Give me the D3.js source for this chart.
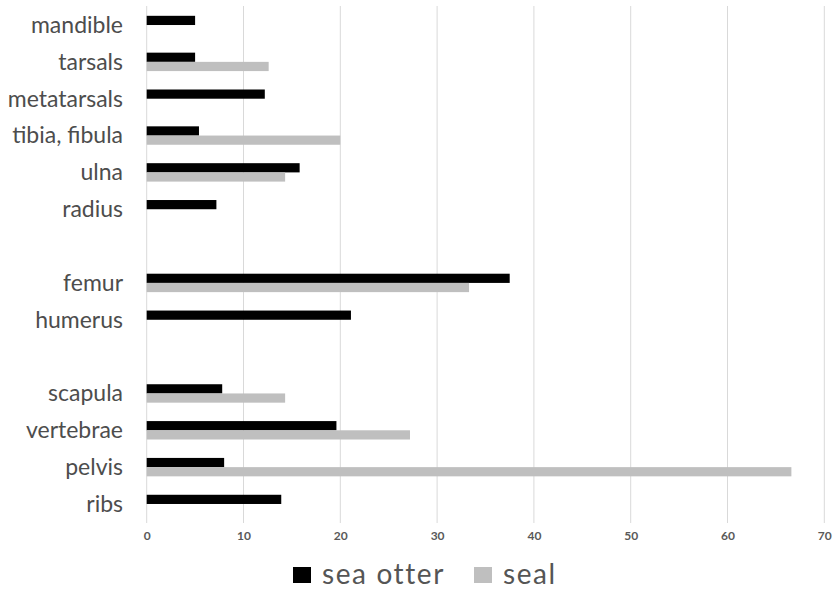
<!DOCTYPE html>
<html><head><meta charset="utf-8">
<script src="https://cdn.jsdelivr.net/npm/d3@7"></script>
<style>html,body{margin:0;padding:0;background:#fff;}svg{display:block;}</style>
</head><body>
<svg id="chart" width="833" height="592"></svg>
<script>
const categories = ["mandible","tarsals","metatarsals","tibia, fibula","ulna","radius","_gap1","femur","humerus","_gap2","scapula","vertebrae","pelvis","ribs"];
const seriesNames = ["sea otter","seal"];
const seaOtter = [5.0, 5.0, 12.2, 5.4, 15.8, 7.2, null, 37.5, 21.1, null, 7.8, 19.6, 8.0, 13.9];
const seal     = [null, 12.6, null, 20.0, 14.3, null, null, 33.3, null, null, 14.3, 27.2, 66.6, null];
const xTicks = [0,10,20,30,40,50,60,70];
const colors = ["#000000","#bfbfbf"];

const svg = d3.select("#chart");
const x = d3.scaleLinear().domain([0,70]).range([146.7, 824.3]);
const y = d3.scaleBand().domain(categories).range([6.6, 522.4]).paddingInner(0.5).paddingOuter(0.25);
const ys = d3.scaleBand().domain(seriesNames).range([0, y.bandwidth()]);

// gridlines
svg.append("g").selectAll("line").data(xTicks).join("line")
  .attr("x1", d=>x(d)).attr("x2", d=>x(d))
  .attr("y1", 6).attr("y2", 523)
  .attr("stroke", "#d9d9d9").attr("stroke-width", 1);

// x axis tick labels
const xAxis = d3.axisBottom(x).tickValues(xTicks).tickSize(0).tickPadding(0);
const gx = svg.append("g").attr("transform","translate(0,531)").call(xAxis);
gx.select(".domain").remove();
gx.selectAll("text").attr("font-family","Lato, sans-serif").attr("font-size",12)
  .attr("font-weight","bold").attr("fill","#595959");

// y axis labels
const yAxis = d3.axisLeft(y).tickSize(0).tickPadding(0).tickFormat(d => d.startsWith("_") ? "" : d);
const gy = svg.append("g").attr("transform","translate(123,0)").call(yAxis);
gy.select(".domain").remove();
gy.selectAll("text").attr("font-family","Lato, sans-serif").attr("font-size",23)
  .attr("fill","#4d4d4d").attr("dy","0.34em");

// bars
const data = [seaOtter, seal];
data.forEach((vals, si) => {
  svg.append("g").selectAll("rect")
    .data(categories.map((c,i)=>({c, v: vals[i]})).filter(d => d.v != null))
    .join("rect")
    .attr("x", x(0))
    .attr("y", d => y(d.c) + ys(seriesNames[si]))
    .attr("width", d => x(d.v) - x(0))
    .attr("height", ys.bandwidth())
    .attr("fill", colors[si]);
});

// legend
const legend = svg.append("g").attr("font-family","Lato, sans-serif");
const legendItems = [
  {name: seriesNames[0], color: colors[0], sx: 293, tx: 322},
  {name: seriesNames[1], color: colors[1], sx: 474, tx: 503}
];
legendItems.forEach(it => {
  legend.append("rect").attr("x", it.sx).attr("y", 567).attr("width", 18).attr("height", 16).attr("fill", it.color);
  legend.append("text").attr("x", it.tx).attr("y", 584).attr("font-size", 28)
    .attr("letter-spacing", 1.6).attr("fill","#555555").text(it.name);
});
</script>
</body></html>
